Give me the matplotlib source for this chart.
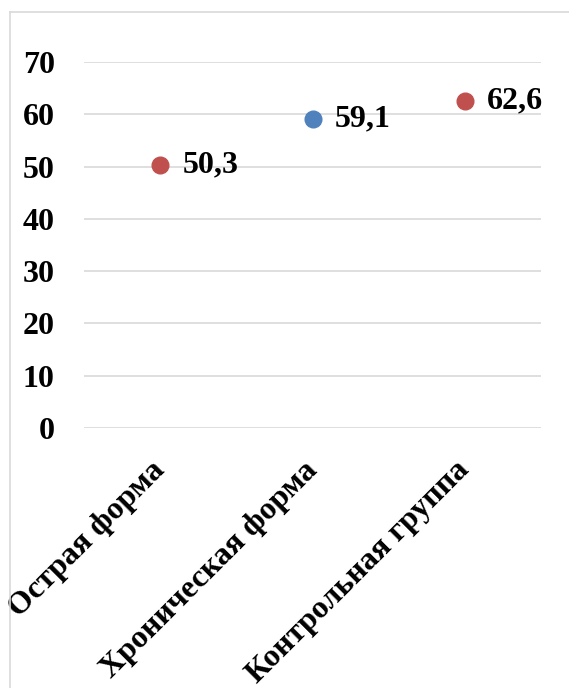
import matplotlib
matplotlib.use("Agg")
import matplotlib.pyplot as plt
import matplotlib.transforms as mtransforms
from matplotlib.lines import Line2D

categories = ["Острая форма", "Хроническая форма", "Контрольная группа"]
values = [50.3, 59.1, 62.6]
value_labels = ["50,3", "59,1", "62,6"]
colors = ["#C0504D", "#4F81BD", "#C0504D"]
y_ticks = [0, 10, 20, 30, 40, 50, 60, 70]

plt.rcParams["font.family"] = ["Liberation Serif", "DejaVu Serif"]
plt.rcParams["font.weight"] = "bold"


def main():
    fig = plt.figure(figsize=(5.69, 6.88), dpi=100)
    ax = fig.add_axes([84 / 569, 1 - 428 / 688, (541 - 84) / 569, (428 - 62) / 688])

    x = list(range(len(categories)))
    for xi, v, c, lab in zip(x, values, colors, value_labels):
        ax.plot(xi, v, "o", color=c, markersize=12, zorder=3)
        ax.annotate(lab, (xi, v), xytext=(16, 0), textcoords="offset points",
                    ha="left", va="center", fontsize=23, fontweight="bold")

    ax.set_xlim(-0.5, 2.5)
    ax.set_ylim(0, 70)
    ax.set_yticks(y_ticks)
    ax.set_yticklabels([str(t) for t in y_ticks], fontsize=23, fontweight="bold")
    ax.yaxis.grid(True, color="#d9d9d9", linewidth=1.2)
    ax.set_axisbelow(True)
    ax.tick_params(axis="y", length=0, pad=21)
    ax.tick_params(axis="x", length=0, pad=20)
    ax.set_xticks(x)
    ax.set_xticklabels(categories, rotation=45, ha="right", va="top",
                       rotation_mode="anchor", fontsize=23, fontweight="bold")
    # nudge rotated labels a bit to the left
    shift = mtransforms.ScaledTranslation(-10 / 100, 0, fig.dpi_scale_trans)
    for lbl in ax.get_xticklabels():
        lbl.set_transform(lbl.get_transform() + shift)
    for s in ax.spines.values():
        s.set_visible(False)

    # chart border (only top and left visible in the original crop)
    fig.add_artist(Line2D([10 / 569, 10 / 569], [0, 1 - 12 / 688],
                          transform=fig.transFigure, color="#d9d9d9", linewidth=1.2))
    fig.add_artist(Line2D([10 / 569, 1], [1 - 12 / 688, 1 - 12 / 688],
                          transform=fig.transFigure, color="#d9d9d9", linewidth=1.2))

    fig.savefig("out.png", dpi=100)


if __name__ == "__main__":
    main()
